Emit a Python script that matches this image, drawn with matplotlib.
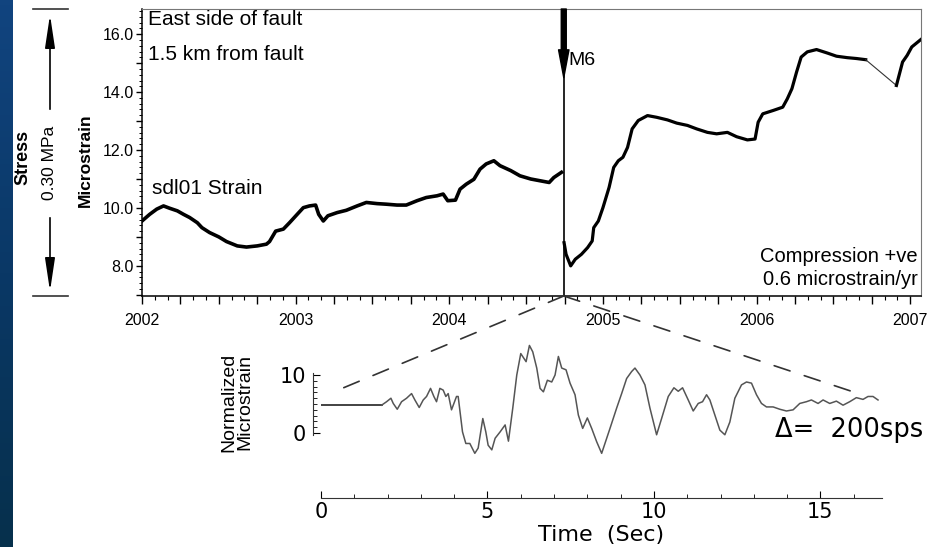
import numpy as np
import matplotlib
matplotlib.use("Agg")
import matplotlib.pyplot as plt
from matplotlib.ticker import MultipleLocator, FuncFormatter, FixedLocator
from matplotlib.patches import ConnectionPatch, FancyArrowPatch
from matplotlib.lines import Line2D
from matplotlib.colors import LinearSegmentedColormap

plt.rcParams['font.family'] = ['Liberation Sans', 'DejaVu Sans']

# sdl01 strain (decimal year, microstrain)
pre_t = [2002.0, 2002.05, 2002.096, 2002.14, 2002.18, 2002.23, 2002.27, 2002.31, 2002.36,
         2002.39, 2002.44, 2002.5, 2002.55, 2002.62, 2002.68, 2002.75, 2002.81, 2002.83,
         2002.87, 2002.92, 2002.96, 2003.01, 2003.05, 2003.09, 2003.13, 2003.15, 2003.18,
         2003.21, 2003.27, 2003.33, 2003.4, 2003.46, 2003.53, 2003.59, 2003.66, 2003.72,
         2003.79, 2003.85, 2003.92, 2003.96, 2003.99, 2004.04, 2004.07, 2004.11, 2004.16,
         2004.2, 2004.24, 2004.29, 2004.33, 2004.4, 2004.46, 2004.53, 2004.59, 2004.65,
         2004.68, 2004.73]
pre_v = [9.55, 9.78, 9.96, 10.07, 9.99, 9.9, 9.78, 9.67, 9.49,
         9.32, 9.15, 9.0, 8.84, 8.69, 8.65, 8.69, 8.75, 8.84,
         9.2, 9.27, 9.49, 9.78, 10.01, 10.07, 10.1, 9.78, 9.55,
         9.73, 9.84, 9.92, 10.07, 10.19, 10.15, 10.13, 10.1, 10.1,
         10.25, 10.36, 10.42, 10.48, 10.25, 10.27, 10.65, 10.82, 10.99,
         11.34, 11.52, 11.63, 11.46, 11.29, 11.11, 11.0, 10.94, 10.88,
         11.05, 11.23]

post_t = [2004.747, 2004.76, 2004.79, 2004.82, 2004.86, 2004.9, 2004.93, 2004.94, 2004.97,
          2005.0, 2005.04, 2005.07, 2005.1, 2005.13, 2005.16, 2005.19, 2005.23, 2005.29,
          2005.35, 2005.42, 2005.48, 2005.55, 2005.61, 2005.68, 2005.74, 2005.81, 2005.87,
          2005.94, 2005.99, 2006.01, 2006.04, 2006.11, 2006.17, 2006.2, 2006.23, 2006.26,
          2006.29, 2006.33, 2006.39, 2006.46, 2006.52, 2006.59, 2006.65, 2006.71]
post_v = [8.8, 8.4, 8.0, 8.23, 8.4, 8.63, 8.86, 9.32, 9.55,
          10.01, 10.71, 11.4, 11.63, 11.75, 12.09, 12.73, 13.02, 13.19,
          13.13, 13.04, 12.93, 12.85, 12.73, 12.61, 12.56, 12.61, 12.46,
          12.35, 12.38, 12.96, 13.25, 13.37, 13.48, 13.77, 14.12, 14.69,
          15.21, 15.39, 15.47, 15.35, 15.24, 15.19, 15.16, 15.12]

end_t = [2006.91, 2006.95, 2006.98, 2007.01, 2007.07]
end_v = [14.23, 15.04, 15.27, 15.56, 15.82]

eq_t = 2004.745

# strain during the M6 shaking, 200 sps (seconds, normalized microstrain)
sec = [0, 1.82, 1.97, 2.1, 2.17, 2.29, 2.42, 2.57, 2.72, 2.82, 2.95, 3.07, 3.17, 3.29,
       3.39, 3.47, 3.57, 3.67, 3.75, 3.82, 3.92, 4.07, 4.12, 4.25, 4.35, 4.47, 4.62,
       4.72, 4.86, 4.95, 5.02, 5.13, 5.23, 5.38, 5.53, 5.63, 5.76, 5.88, 6.0, 6.16,
       6.26, 6.36, 6.48, 6.58, 6.68, 6.8, 6.93, 7.03, 7.13, 7.23, 7.36, 7.48, 7.63,
       7.73, 7.86, 8.0, 8.13, 8.28, 8.43, 8.68, 8.88, 9.03, 9.18, 9.33, 9.43, 9.58,
       9.73, 9.88, 10.08, 10.23, 10.43, 10.6, 10.73, 10.86, 11.03, 11.18, 11.33, 11.46,
       11.58, 11.68, 11.83, 11.98, 12.13, 12.28, 12.43, 12.63, 12.78, 12.93, 13.08,
       13.23, 13.38, 13.58, 13.78, 13.98, 14.18, 14.38, 14.58, 14.73, 14.93, 15.08,
       15.28, 15.48, 15.68, 15.88, 16.08, 16.28, 16.43, 16.58, 16.73]
norm = [4.8, 4.8, 5.4, 6.0, 5.1, 4.1, 5.4, 6.0, 6.8, 5.7, 4.4, 5.7, 6.3, 7.7,
        6.3, 5.4, 7.7, 7.4, 6.3, 6.8, 4.0, 6.3, 6.3, 0.2, -1.8, -1.8, -3.5,
        -2.6, 2.5, 0.2, -2.1, -2.9, -0.9, 0.2, 1.4, -1.4, 4.3, 10.0, 13.7, 12.3,
        15.1, 14.0, 11.2, 7.7, 7.1, 9.1, 8.8, 10.0, 13.2, 11.2, 10.9, 8.6, 6.6,
        3.1, 0.8, 2.6, 0.8, -1.5, -3.5, 0.8, 4.3, 6.8, 9.4, 10.6, 11.2, 10.0,
        8.3, 4.3, -0.3, 2.5, 6.3, 7.8, 7.2, 7.8, 5.7, 3.8, 5.1, 5.4,
        6.6, 5.7, 3.1, 0.5, -0.3, 1.9, 6.0, 8.3, 8.8, 8.6, 6.6,
        5.1, 4.5, 4.5, 4.1, 3.8, 4.0, 5.1, 5.4, 5.7, 5.1, 5.7,
        5.1, 5.5, 4.8, 5.4, 6.1, 5.8, 6.3, 6.3, 5.7]

W, H = 931, 547
fig = plt.figure(figsize=(W / 100, H / 100), dpi=100)
fig.patch.set_facecolor('white')


def fx(x):
    return x / W


def fy(y):
    return 1 - y / H


# blue slide edge on the left
strip = fig.add_axes([0, 0, fx(13), 1])
strip.axis('off')
cm = LinearSegmentedColormap.from_list('edge', ['#11447f', '#0a3866', '#06304c'])
strip.imshow(np.linspace(0, 1, 100)[:, None], aspect='auto', cmap=cm)

# ---- upper panel: long term strain ----
ax = fig.add_axes([fx(142), fy(296), fx(921) - fx(142), fy(9) - fy(296)])
ax.plot(pre_t, pre_v, color='black', lw=2.6, solid_joinstyle='round')
ax.plot(post_t, post_v, color='black', lw=2.3, solid_joinstyle='round')
ax.plot([post_t[-1], end_t[0]], [post_v[-1], end_v[0]], color='#333333', lw=0.8)
ax.plot(end_t, end_v, color='black', lw=2.3, solid_joinstyle='round')
ax.axvline(eq_t, color='black', lw=1.2)
ax.set_xlim(2002, 2007.07)
ax.set_ylim(6.96, 16.87)

ax.xaxis.set_major_locator(MultipleLocator(0.25))
ax.xaxis.set_minor_locator(MultipleLocator(1 / 12))
ax.xaxis.set_major_formatter(FuncFormatter(
    lambda v, p: '%d' % round(v) if abs(v - round(v)) < 1e-6 else ''))
ax.yaxis.set_major_locator(MultipleLocator(1.0))
ax.yaxis.set_minor_locator(MultipleLocator(0.2))
ax.yaxis.set_major_formatter(FuncFormatter(
    lambda v, p: '%.1f' % v if round(v) % 2 == 0 else ''))
ax.tick_params(axis='x', which='major', direction='out', length=6, width=1, pad=6, labelsize=11.5)
ax.tick_params(axis='x', which='minor', direction='out', length=3, width=0.8)
ax.tick_params(axis='y', which='major', direction='out', length=4, width=1, pad=2, labelsize=11.5)
ax.tick_params(axis='y', which='minor', direction='out', length=2, width=0.7)
for s in ['top', 'right']:
    ax.spines[s].set_color('#777777')
for s in ['left', 'bottom']:
    ax.spines[s].set_color('black')
    ax.spines[s].set_linewidth(1.1)

ax.annotate('', xy=(eq_t, 14.5), xytext=(eq_t, 16.87),
            arrowprops=dict(width=3.6, headwidth=7.5, headlength=20, color='black', shrink=0))
ax.annotate('M6', xy=(eq_t, 15.1), xytext=(3, 0), textcoords='offset points',
            fontsize=14, va='center', ha='left')

ax.text(0.008, 0.962, 'East side of fault', transform=ax.transAxes, fontsize=15, va='center')
ax.text(0.008, 0.84, '1.5 km from fault', transform=ax.transAxes, fontsize=15, va='center')
ax.text(0.013, 0.376, 'sdl01 Strain', transform=ax.transAxes, fontsize=15, va='center')
ax.text(0.996, 0.136, 'Compression +ve', transform=ax.transAxes, fontsize=14.5,
        va='center', ha='right')
ax.text(0.996, 0.056, '0.6 microstrain/yr', transform=ax.transAxes, fontsize=14.5,
        va='center', ha='right')

# stress scale bar
for yy in (9, 296):
    fig.add_artist(Line2D([fx(33), fx(68)], [fy(yy), fy(yy)], color='#333333', lw=1.2))
for y0, y1 in ((112, 12), (215, 294)):
    fig.add_artist(FancyArrowPatch((fx(50), fy(y0)), (fx(50), fy(y1)),
                                   transform=fig.transFigure,
                                   arrowstyle='-|>,head_length=2.0,head_width=0.3',
                                   mutation_scale=10, color='black', lw=1.2))
fig.text(fx(23), fy(157), 'Stress', rotation=90, fontsize=13, fontweight='bold',
         ha='center', va='center')
fig.text(fx(50), fy(163), '0.30 MPa', rotation=90, fontsize=12.5, ha='center', va='center')
fig.text(fx(85), fy(160), 'Microstrain', rotation=90, fontsize=12.5, fontweight='bold',
         ha='center', va='center')

# ---- lower panel: the shaking at 200 sps ----
bx = fig.add_axes([fx(321), fy(498), fx(882) - fx(321), fy(335) - fy(498)])
bx.patch.set_alpha(0)
bx.plot(sec[:2], norm[:2], color='#222222', lw=1.2)
bx.plot(sec[1:], norm[1:], color='#555555', lw=1.1)
bx.set_xlim(0, 16.85)
bx.set_ylim(-11.2, 16.9)
for s in ['top', 'right']:
    bx.spines[s].set_visible(False)
bx.spines['left'].set_position(('outward', 6))
bx.spines['left'].set_bounds(-0.3, 10.3)
bx.spines['left'].set_color('#333333')
bx.spines['bottom'].set_color('#333333')
bx.yaxis.set_major_locator(FixedLocator([0, 10]))
bx.yaxis.set_minor_locator(FixedLocator(list(range(1, 10))))
bx.xaxis.set_major_locator(FixedLocator([0, 5, 10, 15]))
bx.xaxis.set_minor_locator(MultipleLocator(1))
bx.tick_params(axis='y', which='major', direction='in', length=5, pad=5, labelsize=15)
bx.tick_params(axis='y', which='minor', direction='in', length=3)
bx.tick_params(axis='x', which='major', direction='in', length=5, pad=3, labelsize=15)
bx.tick_params(axis='x', which='minor', direction='in', length=3)
for lab in bx.get_xticklabels() + bx.get_yticklabels():
    lab.set_family('DejaVu Sans')
bx.set_xlabel('Time  (Sec)', fontsize=16, family='DejaVu Sans', labelpad=2)

bx.text(18.1, 0.5, '\u0394=  200sps', fontsize=18.5, family='DejaVu Sans',
        ha='right', va='center', clip_on=False)
fig.text(fx(237), fy(402), 'Normalized\nMicrostrain', rotation=90, fontsize=14,
         linespacing=0.95, ha='center', va='center')

# dashed lines from the M6 time down to the zoomed record
for tb, vb in ((0.3, 6.9), (16.0, 7.07)):
    con = ConnectionPatch(xyA=(eq_t, 6.96), coordsA=ax.transData,
                          xyB=(tb, vb), coordsB=bx.transData,
                          color='#333333', lw=1.2, linestyle=(0, (10, 9)))
    fig.add_artist(con)

fig.savefig('out.png', dpi=100, facecolor='white')
